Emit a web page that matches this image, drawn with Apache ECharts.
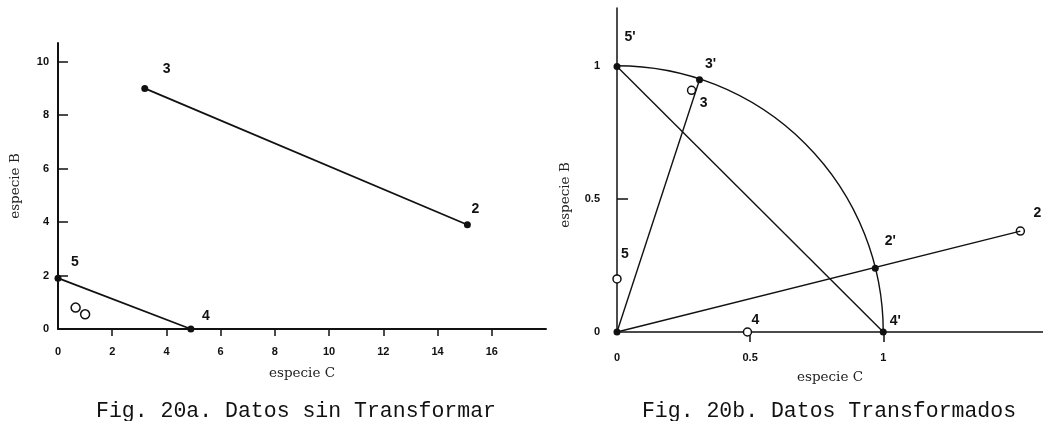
<!DOCTYPE html>
<html>
<head>
<meta charset="utf-8">
<script src="https://cdn.jsdelivr.net/npm/echarts@6/dist/echarts.min.js"></script>
<style>
  html, body { margin: 0; padding: 0; background: #fff; }
  #chart { width: 1043px; height: 421px; }
</style>
</head>
<body>
<div id="chart"></div>
<script>
// ---------- Data: Fig. 20a (untransformed) ----------
const leftXTicks = [0, 2, 4, 6, 8, 10, 12, 14, 16];
const leftYTicks = [0, 2, 4, 6, 8, 10];
const leftSegA = [[3.2, 9.0], [15.1, 3.9]];      // points 3 -> 2
const leftSegALabels = ['3', '2'];
const leftSegB = [[0, 1.9], [4.9, 0]];           // points 5 -> 4
const leftSegBLabels = ['5', '4'];
const leftOpen = [[0.65, 0.8], [1.0, 0.55]];     // open circles near origin

// ---------- Data: Fig. 20b (transformed) ----------
const rightXTicks = [0, 0.5, 1];
const rightYTicks = [0, 0.5, 1];
const rightFilled = [[0, 0], [0, 1], [0.31, 0.95], [0.97, 0.24], [1, 0]];
const rightFilledLabels = ['', "5'", "3'", "2'", "4'"];
const rightOpen = [[0.28, 0.91], [1.515, 0.38], [0.49, 0], [0, 0.2]];
const rightOpenLabels = ['3', '2', '4', '5'];
const rightLines = [
  [[0, 0], [0.31, 0.95]],   // origin -> 3'
  [[0, 0], [1.515, 0.38]],  // origin -> 2
  [[0, 1], [1, 0]]          // 5' -> 4'
];
const unitArc = [[0, 0, 1]]; // centre x, centre y, radius

// label offsets (styling, not data)
const offs = {
  L: { '3': [22, -19], '2': [8, -16], '5': [17, -16], '4': [15, -13] },
  RF: { "5'": [13, -29], "3'": [11, -16], "2'": [15, -27], "4'": [12, -11] },
  RO: { '3': [12, 13], '2': [17, -18], '4': [8, -12], '5': [8, -25] }
};

const INK = '#111';
const labFont = { fontFamily: 'Liberation Sans', fontWeight: 'bold', fontSize: 14, color: INK };
const tickFont = { fontFamily: 'Liberation Sans', fontWeight: 'bold', fontSize: 11, color: INK };
const nameFont = { fontFamily: 'DejaVu Serif', fontSize: 13.5, color: '#222' };

function labelled(points, labels, table) {
  return points.map((p, i) => ({
    value: p,
    label: labels[i] ? {
      show: true, formatter: labels[i], position: 'inside',
      offset: table[labels[i]], ...labFont
    } : { show: false }
  }));
}

const chart = echarts.init(document.getElementById('chart'), null, { renderer: 'canvas' });

const option = {
  backgroundColor: '#fff',
  animation: false,
  title: [
    { text: 'Fig. 20a. Datos sin Transformar', left: 291, top: 395, textAlign: 'center',
      textStyle: { fontFamily: 'Liberation Mono', fontWeight: 'normal', fontSize: 21.5, color: '#111' } },
    { text: 'Fig. 20b. Datos Transformados', left: 824, top: 395, textAlign: 'center',
      textStyle: { fontFamily: 'Liberation Mono', fontWeight: 'normal', fontSize: 21.5, color: '#111' } }
  ],
  grid: [
    { left: 58, top: 43, width: 488, height: 286 },
    { left: 617, top: 8, width: 426, height: 324 }
  ],
  xAxis: [
    {
      gridIndex: 0, type: 'value', min: 0, max: 18, interval: 2,
      name: 'especie C', nameLocation: 'middle', nameGap: 37, nameTextStyle: nameFont,
      axisLine: { show: true, lineStyle: { color: INK, width: 2 } },
      axisTick: { show: true, inside: false, length: 7, customValues: leftXTicks.slice(1), lineStyle: { color: INK, width: 1.5 } },
      axisLabel: { customValues: leftXTicks, margin: 17, ...tickFont },
      splitLine: { show: false }
    },
    {
      gridIndex: 1, type: 'value', min: 0, max: 1.6, interval: 0.5,
      name: 'especie C', nameLocation: 'middle', nameGap: 38, nameTextStyle: nameFont,
      axisLine: { show: true, lineStyle: { color: INK, width: 1.5 } },
      axisTick: { show: true, inside: false, length: 10, customValues: [0.5, 1], lineStyle: { color: INK, width: 1.5 } },
      axisLabel: { customValues: rightXTicks, margin: 20, formatter: v => String(v), ...tickFont },
      splitLine: { show: false }
    }
  ],
  yAxis: [
    {
      gridIndex: 0, type: 'value', min: 0, max: 10.7, interval: 2,
      name: 'especie B', nameLocation: 'middle', nameGap: 36, nameTextStyle: nameFont,
      axisLine: { show: true, lineStyle: { color: INK, width: 2 } },
      axisTick: { show: true, inside: true, length: 10, customValues: leftYTicks.slice(1), lineStyle: { color: INK, width: 1.5 } },
      axisLabel: { customValues: leftYTicks, margin: 9, ...tickFont },
      splitLine: { show: false }
    },
    {
      gridIndex: 1, type: 'value', min: 0, max: 1.22, interval: 0.5,
      name: '',
      axisLine: { show: true, lineStyle: { color: INK, width: 1.5 } },
      axisTick: { show: true, inside: true, length: 11, customValues: [0.5], lineStyle: { color: INK, width: 1.5 } },
      axisLabel: { customValues: rightYTicks, margin: 17, formatter: v => String(v), ...tickFont },
      splitLine: { show: false }
    }
  ],
  graphic: [
    { type: 'text', x: 565, y: 195, rotation: Math.PI / 2, silent: true,
      style: { text: 'especie B', x: 0, y: 0, align: 'center', verticalAlign: 'middle',
               fontFamily: 'DejaVu Serif', fontSize: 13.5, fill: '#222' } }
  ],
  series: [
    // ----- left -----
    { type: 'line', xAxisIndex: 0, yAxisIndex: 0, data: leftSegA, symbol: 'none',
      lineStyle: { color: INK, width: 1.8 }, silent: true },
    { type: 'line', xAxisIndex: 0, yAxisIndex: 0, data: leftSegB, symbol: 'none',
      lineStyle: { color: INK, width: 1.8 }, silent: true },
    { type: 'scatter', xAxisIndex: 0, yAxisIndex: 0, symbol: 'circle', symbolSize: 7,
      itemStyle: { color: INK, opacity: 1 },
      data: labelled(leftSegA, leftSegALabels, offs.L).concat(labelled(leftSegB, leftSegBLabels, offs.L)) },
    { type: 'scatter', xAxisIndex: 0, yAxisIndex: 0, symbol: 'circle', symbolSize: 9,
      itemStyle: { color: '#fff', borderColor: INK, borderWidth: 1.5, opacity: 1 },
      data: leftOpen },
    // ----- right -----
    ...rightLines.map(seg => ({
      type: 'line', xAxisIndex: 1, yAxisIndex: 1, data: seg, symbol: 'none',
      lineStyle: { color: INK, width: 1.4 }, silent: true
    })),
    { type: 'custom', xAxisIndex: 1, yAxisIndex: 1, data: unitArc, silent: true,
      encode: { x: 0, y: 1 },
      renderItem: function (params, api) {
        const c = api.coord([api.value(0), api.value(1)]);
        const e = api.coord([api.value(0) + api.value(2), api.value(1)]);
        return {
          type: 'arc',
          shape: { cx: c[0], cy: c[1], r: e[0] - c[0], startAngle: -Math.PI / 2, endAngle: 0, clockwise: true },
          style: { stroke: INK, fill: null, lineWidth: 1.4 }
        };
      } },
    { type: 'scatter', xAxisIndex: 1, yAxisIndex: 1, symbol: 'circle', symbolSize: 8,
      itemStyle: { color: '#fff', borderColor: INK, borderWidth: 1.5, opacity: 1 },
      data: labelled(rightOpen, rightOpenLabels, offs.RO) },
    { type: 'scatter', xAxisIndex: 1, yAxisIndex: 1, symbol: 'circle', symbolSize: 7,
      itemStyle: { color: INK, opacity: 1 },
      data: labelled(rightFilled, rightFilledLabels, offs.RF) }
  ]
};
chart.setOption(option);
</script>
</body>
</html>
